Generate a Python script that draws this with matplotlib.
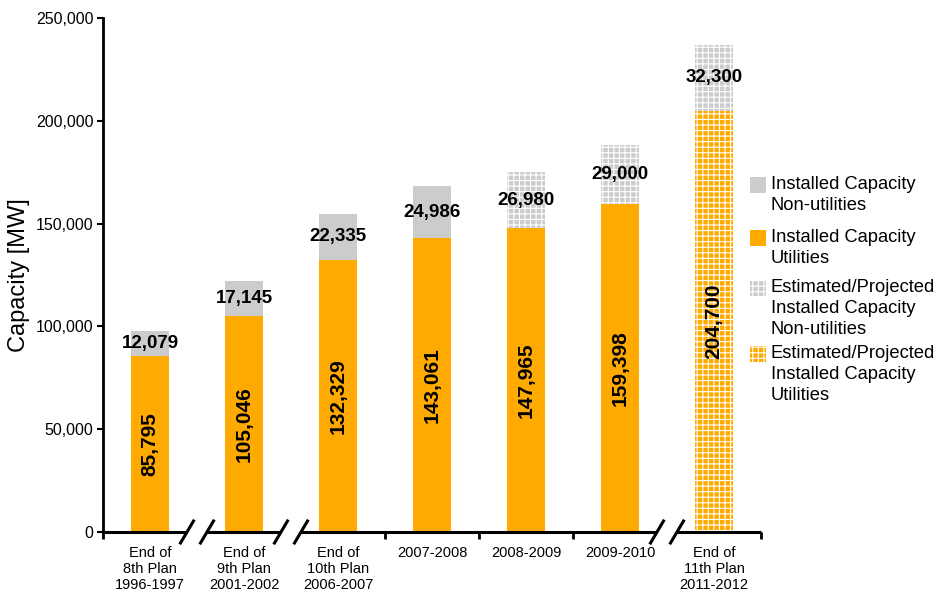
import matplotlib
matplotlib.use("Agg")
import matplotlib.pyplot as plt
from matplotlib.patches import Rectangle
from matplotlib.ticker import FuncFormatter, FixedLocator
import matplotlib.transforms as mtransforms

plt.rcParams['font.family'] = ['Liberation Sans', 'DejaVu Sans']
plt.rcParams['hatch.linewidth'] = 0.8

# ---- data -------------------------------------------------------------
categories = ["End of\n8th Plan\n1996-1997", "End of\n9th Plan\n2001-2002",
              "End of\n10th Plan\n2006-2007", "2007-2008", "2008-2009",
              "2009-2010", "End of\n11th Plan\n2011-2012"]
utilities = [85795, 105046, 132329, 143061, 147965, 159398, 204700]
non_utilities = [12079, 17145, 22335, 24986, 26980, 29000, 32300]
utilities_estimated = [False, False, False, False, False, False, True]
non_utilities_estimated = [False, False, False, False, True, True, True]
axis_breaks = [0.5, 1.5, 5.5]
yticks = [0, 50000, 100000, 150000, 200000, 250000]
legend_labels = ["Installed Capacity\nNon-utilities",
                 "Installed Capacity\nUtilities",
                 "Estimated/Projected\nInstalled Capacity\nNon-utilities",
                 "Estimated/Projected\nInstalled Capacity\nUtilities"]

ORANGE = "#FFAA00"
GREY = "#CCCCCC"
HATCH = "+++"

fig = plt.figure(figsize=(9.4, 5.94), dpi=100)
ax = fig.add_axes([103 / 940, 62 / 594, 658 / 940, 514 / 594])

x = list(range(len(categories)))
width = 0.41

for i in x:
    hu = HATCH if utilities_estimated[i] else None
    hn = HATCH if non_utilities_estimated[i] else None
    ax.bar(i, utilities[i], width, color=ORANGE,
           edgecolor="white" if hu else ORANGE, linewidth=0, hatch=hu)
    ax.bar(i, non_utilities[i], width, bottom=utilities[i], color=GREY,
           edgecolor="white" if hn else GREY, linewidth=0, hatch=hn)
    # value labels
    ax.text(i, utilities[i] / 2, f"{utilities[i]:,}", rotation=90,
            ha="center", va="center", fontsize=15, fontweight="bold")
    ax.text(i, utilities[i] + non_utilities[i] / 2, f"{non_utilities[i]:,}",
            ha="center", va="center", fontsize=13.5, fontweight="bold")

ax.set_xlim(-0.5, len(categories) - 0.5)
ax.set_ylim(0, 250000)
ax.set_yticks(yticks)
ax.yaxis.set_major_formatter(FuncFormatter(lambda v, p: f"{int(v):,}"))
ax.set_ylabel("Capacity [MW]", fontsize=17, labelpad=4)

for s in ["top", "right", "bottom"]:
    ax.spines[s].set_visible(False)
ax.spines["left"].set_linewidth(2)

ax.tick_params(axis="y", labelsize=11.5, width=1.5, length=4, pad=3)
ax.set_xticks(x)
ax.set_xticklabels(categories, fontsize=10.5, linespacing=1.2)
ax.tick_params(axis="x", which="major", length=0, pad=10)
boundaries = [b - 0.5 for b in range(len(categories) + 1)]
minor = [b for b in boundaries if b not in axis_breaks]
ax.xaxis.set_minor_locator(FixedLocator(minor))
ax.tick_params(axis="x", which="minor", length=5, width=2)

# bottom axis line with break marks
trans = mtransforms.blended_transform_factory(ax.transData, ax.transAxes)
px = 1.0 / 94.0        # one pixel in x data units
py = 1.0 / 514.0       # one pixel in y axes units
left_start = -0.5
for b in axis_breaks:
    c1, c2 = b - 10 * px, b + 10 * px
    ax.plot([left_start, c1], [0, 0], color="black", lw=2.2,
            transform=trans, clip_on=False, solid_capstyle="butt")
    for c in (c1, c2):
        ax.plot([c - 6.5 * px, c + 6.5 * px], [-11 * py, 11 * py],
                color="black", lw=2.2, transform=trans, clip_on=False)
    left_start = c2
ax.plot([left_start, len(categories) - 0.5], [0, 0], color="black", lw=2.2,
        transform=trans, clip_on=False, solid_capstyle="butt")

# legend drawn in figure pixels
legend_face = [GREY, ORANGE, GREY, ORANGE]
legend_hatch = [None, None, HATCH, HATCH]
legend_top = [177, 230, 280, 346]
for lab, fc, h, top in zip(legend_labels, legend_face, legend_hatch, legend_top):
    r = Rectangle((750 / 940, (594 - top - 16) / 594), 16 / 940, 16 / 594,
                  transform=fig.transFigure, facecolor=fc,
                  edgecolor="white" if h else fc, linewidth=0, hatch=h)
    fig.patches.append(r)
    fig.text(771 / 940, (594 - top + 1) / 594, lab, fontsize=13.2,
             ha="left", va="top", linespacing=1.3)

fig.savefig("out.png", dpi=100)
